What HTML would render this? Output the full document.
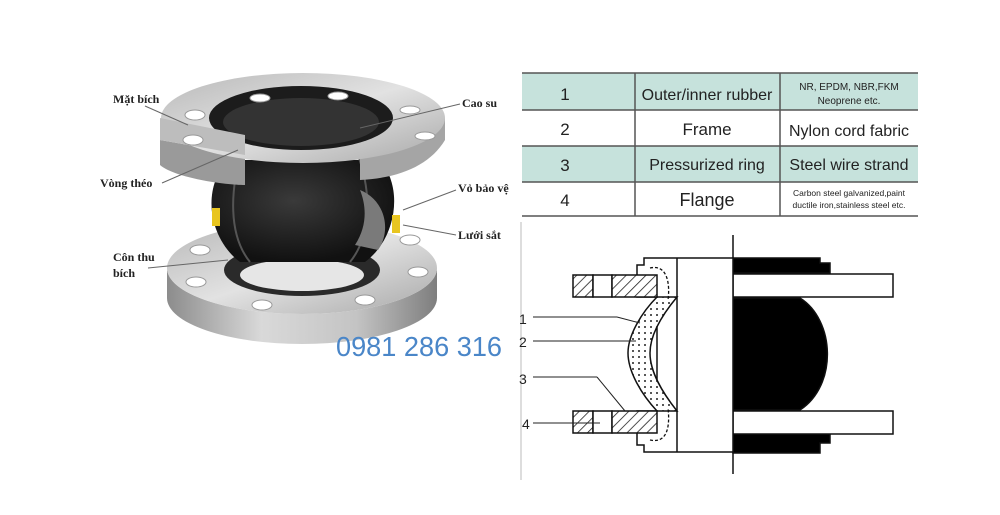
<!DOCTYPE html>
<html><head><meta charset="utf-8"><style>
html,body{margin:0;padding:0;background:#fff;width:1000px;height:515px;overflow:hidden}
svg{display:block}
</style></head><body>
<svg width="1000" height="515" viewBox="0 0 1000 515" xmlns="http://www.w3.org/2000/svg">
<defs>
<linearGradient id="steel" x1="0" x2="1" y1="0" y2="0">
<stop offset="0" stop-color="#8c8c8c"/><stop offset="0.35" stop-color="#d9d9d9"/><stop offset="0.7" stop-color="#c4c4c4"/><stop offset="1" stop-color="#7e7e7e"/></linearGradient>
<linearGradient id="steelTop" x1="0" x2="1" y1="0" y2="1">
<stop offset="0" stop-color="#b8b8b8"/><stop offset="0.5" stop-color="#e2e2e2"/><stop offset="1" stop-color="#a8a8a8"/></linearGradient>
<radialGradient id="rub" cx="0.45" cy="0.4" r="0.6"><stop offset="0" stop-color="#3a3a3a"/><stop offset="1" stop-color="#111"/></radialGradient>
<pattern id="hatch" width="7" height="7" patternUnits="userSpaceOnUse" patternTransform="rotate(45)"><rect width="7" height="7" fill="#fff"/><line x1="0" y1="0" x2="0" y2="7" stroke="#222" stroke-width="1.6"/></pattern>
<pattern id="dots" width="6" height="6" patternUnits="userSpaceOnUse"><rect width="6" height="6" fill="#fff"/><circle cx="3" cy="3" r="1" fill="#222"/></pattern>
</defs>

<!-- LEFT PHOTO -->
<path d="M167 268 A135 46 0 0 0 437 268 L437 298 A135 46 0 0 1 167 298 Z" fill="url(#steel)"/>
<ellipse cx="302" cy="268" rx="135" ry="46" fill="url(#steelTop)"/>
<ellipse cx="302" cy="270" rx="78" ry="26" fill="#2a2a2a"/>
<ellipse cx="302" cy="275" rx="62" ry="16" fill="#e6e6e6"/>
<g fill="#fff" stroke="#999">
<ellipse cx="200" cy="250" rx="10" ry="5"/><ellipse cx="196" cy="282" rx="10" ry="5"/><ellipse cx="262" cy="305" rx="10" ry="5"/><ellipse cx="365" cy="300" rx="10" ry="5"/><ellipse cx="418" cy="272" rx="10" ry="5"/><ellipse cx="410" cy="240" rx="10" ry="5"/></g>
<path d="M228 160 C200 190 210 240 240 262 L365 262 C395 240 405 190 380 160 Z" fill="url(#rub)"/>
<path d="M242 150 C230 190 228 235 250 262" fill="none" stroke="#555" stroke-width="2"/>
<path d="M356 150 C372 190 372 235 350 262" fill="none" stroke="#555" stroke-width="2"/>
<path d="M360 190 C385 200 392 230 378 250 L355 245 C368 225 366 205 360 190 Z" fill="#7a7a7a"/>
<rect x="212" y="208" width="8" height="18" fill="#e8c520"/>
<rect x="392" y="215" width="8" height="18" fill="#e8c520"/>
<path d="M160 140 L160 165 C175 178 225 185 245 185 L245 155 Z" fill="#9a9a9a"/>
<path d="M360 152 L360 180 C400 178 430 165 445 140 L445 118 Z" fill="#a5a5a5"/>
<ellipse cx="303" cy="118" rx="142" ry="45" fill="url(#steelTop)"/>
<ellipse cx="301" cy="118" rx="92" ry="32" fill="#1c1c1c"/>
<ellipse cx="301" cy="122" rx="78" ry="24" fill="#333"/>
<path d="M160 118 L160 140 L245 155 L245 135 Z" fill="#bdbdbd"/>
<g fill="#fff" stroke="#999">
<ellipse cx="195" cy="115" rx="10" ry="5"/><ellipse cx="193" cy="140" rx="10" ry="5"/><ellipse cx="260" cy="98" rx="10" ry="4"/><ellipse cx="338" cy="96" rx="10" ry="4"/><ellipse cx="410" cy="110" rx="10" ry="4"/><ellipse cx="425" cy="136" rx="10" ry="4"/></g>
<g font-family="Liberation Serif, serif" font-weight="bold" font-size="12" fill="#222">
<text x="113" y="103">Mặt bích</text>
<text x="100" y="187">Vòng théo</text>
<text x="462" y="107">Cao su</text>
<text x="458" y="192">Vỏ bảo vệ</text>
<text x="458" y="239">Lưới sắt</text>
<text x="113" y="261">Côn thu</text>
<text x="113" y="277">bích</text>
</g>
<g stroke="#666" stroke-width="1" fill="none">
<line x1="145" y1="106" x2="188" y2="125"/>
<line x1="162" y1="183" x2="238" y2="150"/>
<line x1="460" y1="104" x2="360" y2="128"/>
<line x1="456" y1="190" x2="403" y2="210"/>
<line x1="456" y1="235" x2="403" y2="225"/>
<line x1="148" y1="268" x2="228" y2="260"/>
</g>
<text x="336" y="356" font-family="Liberation Sans, sans-serif" font-size="28" fill="#4a86c8" textLength="166" lengthAdjust="spacingAndGlyphs">0981 286 316</text>

<!-- TABLE -->
<rect x="522" y="73" width="396" height="37" fill="#c6e2dc"/>
<rect x="522" y="146" width="396" height="36" fill="#c6e2dc"/>
<g stroke="#555" stroke-width="1.5">
<line x1="522" y1="73" x2="918" y2="73"/><line x1="522" y1="110" x2="918" y2="110"/><line x1="522" y1="146" x2="918" y2="146"/><line x1="522" y1="182" x2="918" y2="182"/><line x1="522" y1="216" x2="918" y2="216"/>
<line x1="635" y1="73" x2="635" y2="216"/><line x1="780" y1="73" x2="780" y2="216"/>
</g>
<g font-family="Liberation Sans, sans-serif" fill="#222" text-anchor="middle">
<text x="565" y="100" font-size="17">1</text><text x="707" y="100" font-size="16">Outer/inner rubber</text>
<text x="849" y="90" font-size="10">NR, EPDM, NBR,FKM</text><text x="849" y="104" font-size="10">Neoprene etc.</text>
<text x="565" y="135" font-size="17">2</text><text x="707" y="135" font-size="17">Frame</text><text x="849" y="136" font-size="16">Nylon cord fabric</text>
<text x="565" y="171" font-size="17">3</text><text x="707" y="170" font-size="16">Pressurized ring</text><text x="849" y="170" font-size="16">Steel wire strand</text>
<text x="565" y="206" font-size="17">4</text><text x="707" y="206" font-size="18">Flange</text>
<text x="849" y="196" font-size="8.5">Carbon steel galvanized,paint</text><text x="849" y="208" font-size="8.5">ductile iron,stainless steel etc.</text>
</g>
<line x1="521" y1="222" x2="521" y2="480" stroke="#bbb"/>

<!-- CROSS-SECTION -->
<g stroke="#111" stroke-width="1.5">
<line x1="733" y1="235" x2="733" y2="474"/>
<path d="M733 258 L820 258 L820 263 L830 263 L830 273 L733 273 Z" fill="#000"/>
<path d="M733 433 L830 433 L830 443 L820 443 L820 453 L733 453 Z" fill="#000" />
<path d="M733 298 L800 298 C835 320 838 385 800 410 L733 410 Z" fill="#000"/>
<rect x="733" y="274" width="160" height="23" fill="#fff"/>
<rect x="733" y="411" width="160" height="23" fill="#fff"/>
<path d="M644 258 L733 258 L733 452 L644 452 L644 445 L637 445 L637 411 L657 411 L657 297 L637 297 L637 265 L644 265 Z" fill="#fff"/>
<line x1="677" y1="258" x2="677" y2="452"/>
<!-- S band -->
<path d="M657 297 L677 297 C662 315 650 335 650 353 C650 372 662 392 677 411 L657 411 C642 395 628 372 628 353 C628 335 642 312 657 297 Z" fill="url(#dots)"/>
<path d="M650 268 C668 264 670 285 668 300 M650 440 C668 444 670 425 668 408" fill="none" stroke-dasharray="3 2" stroke-width="1.3"/>
<circle cx="646" cy="279" r="3" fill="none" stroke-width="1"/>
<circle cx="646" cy="430" r="3" fill="none" stroke-width="1"/>
<rect x="573" y="275" width="20" height="22" fill="url(#hatch)"/>
<rect x="593" y="275" width="19" height="22" fill="#fff"/>
<rect x="612" y="275" width="45" height="22" fill="url(#hatch)"/>
<rect x="573" y="411" width="20" height="22" fill="url(#hatch)"/>
<rect x="593" y="411" width="19" height="22" fill="#fff"/>
<rect x="612" y="411" width="45" height="22" fill="url(#hatch)"/>
</g>
<g font-family="Liberation Sans, sans-serif" font-size="14" fill="#222">
<text x="519" y="324">1</text><text x="519" y="347">2</text><text x="519" y="384">3</text><text x="522" y="429">4</text>
</g>
<g stroke="#222" stroke-width="1" fill="none">
<line x1="533" y1="317" x2="617" y2="317"/><line x1="617" y1="317" x2="640" y2="323"/>
<line x1="533" y1="341" x2="636" y2="341"/>
<line x1="533" y1="377" x2="597" y2="377"/><line x1="597" y1="377" x2="625" y2="411"/>
<line x1="533" y1="423" x2="600" y2="423"/>
</g>
</svg>
</body></html>
